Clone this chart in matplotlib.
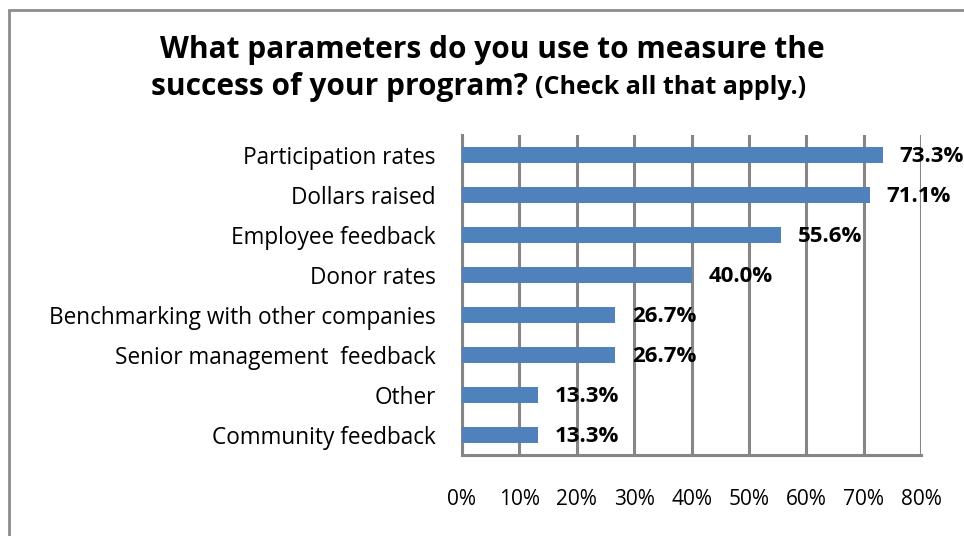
import matplotlib.pyplot as plt
from matplotlib.patches import Rectangle
import numpy as np

plt.rcParams['font.family'] = ['Open Sans', 'DejaVu Sans']

categories = ['Participation rates', 'Dollars raised', 'Employee feedback', 'Donor rates',
              'Benchmarking with other companies', 'Senior management  feedback', 'Other',
              'Community feedback']
values = [73.3, 71.1, 55.6, 40.0, 26.7, 26.7, 13.3, 13.3]
xticks = [0, 10, 20, 30, 40, 50, 60, 70, 80]

W, H = 964, 536
fig = plt.figure(figsize=(W / 100, H / 100), dpi=100)
ax = fig.add_axes([462 / W, 1 - 454.7 / H, (921 - 462) / W, (454.7 - 134.7) / H])

y = np.arange(len(categories))
ax.barh(y, values, height=0.4, color='#4F81BD', zorder=3)
for yi, v in zip(y, values):
    ax.text(v + 2.9, yi + 0.04, '%.1f%%' % v, va='center', ha='left', fontsize=16,
            fontweight='bold', color='black', zorder=4)

ax.set_xlim(0, 80)
ax.set_ylim(len(categories) - 0.5, -0.5)
ax.set_xticks(xticks)
ax.set_xticklabels(['%d%%' % t for t in xticks], fontsize=15)
ax.set_yticks(y)
ax.set_yticklabels(categories, fontsize=16.3)
ax.tick_params(axis='x', length=0, pad=25)
ax.tick_params(axis='y', length=0, pad=19)
ax.grid(axis='x', color='#868686', linewidth=2.2, zorder=1)
for side in ['top', 'right']:
    ax.spines[side].set_visible(False)
for side in ['left', 'bottom']:
    ax.spines[side].set_color('#868686')
    ax.spines[side].set_linewidth(2.2)

fig.text(492 / W, 1 - 50 / H, 'What parameters do you use to measure the', ha='center', va='center',
         fontsize=21.5, fontweight='bold')
fig.text(151 / W, 1 - 87 / H, 'success of your program?', ha='left', va='center',
         fontsize=21.5, fontweight='bold')
fig.text(535 / W, 1 - 88 / H, '(Check all that apply.)', ha='left', va='center',
         fontsize=18, fontweight='bold')

fig.patches.append(Rectangle((9 / W, -0.1), 1.2, 1 - 10 / H + 0.1, transform=fig.transFigure,
                             fill=False, edgecolor='#8c8c8c', linewidth=2))

fig.savefig('out.png', dpi=100)
